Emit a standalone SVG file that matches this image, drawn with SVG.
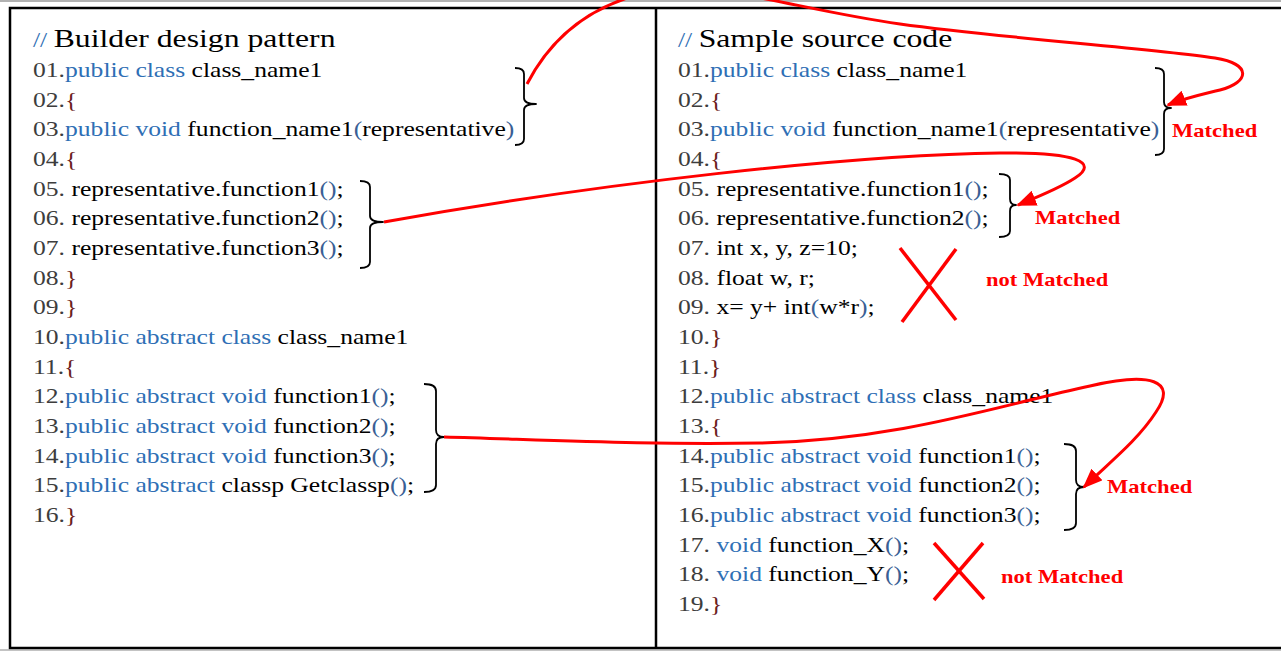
<svg xmlns="http://www.w3.org/2000/svg" width="1281" height="651" viewBox="0 0 1281 651">
<style>
.code{font-family:"Liberation Serif","Times New Roman",serif;font-size:21px;fill:#000}
.ttl{font-size:26px}
.n{fill:#3d3d3d}
.k{fill:#2f6fb5}
.b{fill:#6b2020}
.p{fill:#3a5f95}
.lbl{font-family:"Liberation Serif","Times New Roman",serif;font-weight:bold;font-size:18.5px;fill:#ff0000}
.brace{fill:none;stroke:#000;stroke-width:1.8;stroke-linejoin:round}
.link{fill:none;stroke:#ff0000;stroke-width:3}
.x{stroke:#ff0000;stroke-width:3.5;stroke-linecap:butt}
</style>
<defs>
<marker id="ah" markerUnits="userSpaceOnUse" markerWidth="20" markerHeight="16" refX="18" refY="8" orient="auto">
<path d="M0,0 L20,8 L0,16 Z" fill="#ff0000"/>
</marker>
</defs>
<rect x="0" y="0" width="1281" height="651" fill="#fff"/>
<line x1="0" y1="1" x2="1281" y2="1" stroke="#999" stroke-width="1.5"/>
<rect id="frame" x="10" y="8" width="1290" height="640" fill="none" stroke="#000" stroke-width="2.5"/>
<line x1="0" y1="650" x2="1281" y2="650" stroke="#888" stroke-width="1.2"/>
<line id="divider" x1="656" y1="8" x2="656" y2="648" stroke="#000" stroke-width="2.5"/>

<g id="left-code" class="code" transform="translate(33,0) scale(1.22,1)">
<text x="0" y="47"><tspan class="k">//</tspan> <tspan class="ttl">Builder design pattern</tspan></text>
<text x="0" y="77"><tspan class="n">01.</tspan><tspan class="k">public class</tspan> class_name1</text>
<text x="0" y="106.67"><tspan class="n">02.</tspan><tspan class="b">{</tspan></text>
<text x="0" y="136.33"><tspan class="n">03.</tspan><tspan class="k">public void</tspan> function_name1<tspan class="p">(</tspan>representative<tspan class="p">)</tspan></text>
<text x="0" y="166"><tspan class="n">04.</tspan><tspan class="b">{</tspan></text>
<text x="0" y="195.67"><tspan class="n">05.</tspan> representative.function1<tspan class="p">()</tspan>;</text>
<text x="0" y="225.33"><tspan class="n">06.</tspan> representative.function2<tspan class="p">()</tspan>;</text>
<text x="0" y="255"><tspan class="n">07.</tspan> representative.function3<tspan class="p">()</tspan>;</text>
<text x="0" y="284.67"><tspan class="n">08.</tspan><tspan class="b">}</tspan></text>
<text x="0" y="314.33"><tspan class="n">09.</tspan><tspan class="b">}</tspan></text>
<text x="0" y="344"><tspan class="n">10.</tspan><tspan class="k">public abstract class</tspan> class_name1</text>
<text x="0" y="373.67"><tspan class="n">11.</tspan><tspan class="b">{</tspan></text>
<text x="0" y="403.33"><tspan class="n">12.</tspan><tspan class="k">public abstract void</tspan> function1<tspan class="p">()</tspan>;</text>
<text x="0" y="433"><tspan class="n">13.</tspan><tspan class="k">public abstract void</tspan> function2<tspan class="p">()</tspan>;</text>
<text x="0" y="462.67"><tspan class="n">14.</tspan><tspan class="k">public abstract void</tspan> function3<tspan class="p">()</tspan>;</text>
<text x="0" y="492.33"><tspan class="n">15.</tspan><tspan class="k">public abstract</tspan> classp Getclassp<tspan class="p">()</tspan>;</text>
<text x="0" y="522"><tspan class="n">16.</tspan><tspan class="b">}</tspan></text>
</g>

<g id="right-code" class="code" transform="translate(678,0) scale(1.22,1)">
<text x="0" y="47"><tspan class="k">//</tspan> <tspan class="ttl">Sample source code</tspan></text>
<text x="0" y="77"><tspan class="n">01.</tspan><tspan class="k">public class</tspan> class_name1</text>
<text x="0" y="106.67"><tspan class="n">02.</tspan><tspan class="b">{</tspan></text>
<text x="0" y="136.33"><tspan class="n">03.</tspan><tspan class="k">public void</tspan> function_name1<tspan class="p">(</tspan>representative<tspan class="p">)</tspan></text>
<text x="0" y="166"><tspan class="n">04.</tspan><tspan class="b">{</tspan></text>
<text x="0" y="195.67"><tspan class="n">05.</tspan> representative.function1<tspan class="p">()</tspan>;</text>
<text x="0" y="225.33"><tspan class="n">06.</tspan> representative.function2<tspan class="p">()</tspan>;</text>
<text x="0" y="255"><tspan class="n">07.</tspan> int x, y, z=10;</text>
<text x="0" y="284.67"><tspan class="n">08.</tspan> float w, r;</text>
<text x="0" y="314.33"><tspan class="n">09.</tspan> x= y+ int<tspan class="p">(</tspan>w*r<tspan class="p">)</tspan>;</text>
<text x="0" y="344"><tspan class="n">10.</tspan><tspan class="b">}</tspan></text>
<text x="0" y="373.67"><tspan class="n">11.</tspan><tspan class="b">}</tspan></text>
<text x="0" y="403.33"><tspan class="n">12.</tspan><tspan class="k">public abstract class</tspan> class_name1</text>
<text x="0" y="433"><tspan class="n">13.</tspan><tspan class="b">{</tspan></text>
<text x="0" y="462.67"><tspan class="n">14.</tspan><tspan class="k">public abstract void</tspan> function1<tspan class="p">()</tspan>;</text>
<text x="0" y="492.33"><tspan class="n">15.</tspan><tspan class="k">public abstract void</tspan> function2<tspan class="p">()</tspan>;</text>
<text x="0" y="522"><tspan class="n">16.</tspan><tspan class="k">public abstract void</tspan> function3<tspan class="p">()</tspan>;</text>
<text x="0" y="551.67"><tspan class="n">17.</tspan> <tspan class="k">void</tspan> function_X<tspan class="p">()</tspan>;</text>
<text x="0" y="581.33"><tspan class="n">18.</tspan> <tspan class="k">void</tspan> function_Y<tspan class="p">()</tspan>;</text>
<text x="0" y="611"><tspan class="n">19.</tspan><tspan class="b">}</tspan></text>
</g>

<g id="brace-left-1"><path class="brace" d="M515,68 Q524,68 524,74 L524,98 Q524,104 536,104 Q524,104 524,110 L524,139 Q524,145 515,145"/></g>
<g id="brace-left-2"><path class="brace" d="M360,181 Q370,181 370,187 L370,216 Q370,222 383,222 Q370,222 370,228 L370,262 Q370,268 360,268"/></g>
<g id="brace-left-3"><path class="brace" d="M424,384 Q436,384 436,391 L436,430 Q436,437 444,437 Q436,437 436,444 L436,485 Q436,492 424,492"/></g>
<g id="brace-right-1"><path class="brace" d="M1155,68 Q1164,68 1164,74 L1164,102 Q1164,108 1171,108 Q1164,108 1164,114 L1164,149 Q1164,155 1155,155"/></g>
<g id="brace-right-2"><path class="brace" d="M999,174 Q1010,174 1010,180 L1010,199 Q1010,205 1016,205 Q1010,205 1010,211 L1010,231 Q1010,237 999,237"/></g>
<g id="brace-right-3"><path class="brace" d="M1064,444 Q1076,444 1076,451 L1076,480 Q1076,487 1084,487 Q1076,487 1076,494 L1076,523 Q1076,530 1064,530"/></g>

<g id="connectors">
<path class="link" marker-end="url(#ah)" d="M527,84 C555,30 600,0 660,-10 C720,-18 800,10 900,24 C1000,38 1150,48 1215,58 C1252,64 1250,82 1220,90 C1200,95 1185,98 1168,105"/>
<path class="link" marker-end="url(#ah)" d="M384,222 C600,183 850,155 1000,153 C1075,152 1100,162 1075,178 C1060,188 1040,196 1018,205"/>
<path class="link" marker-end="url(#ah)" d="M444,437 C550,440 650,445 760,443 C900,440 1000,405 1090,386 C1150,372 1178,380 1156,412 C1138,440 1110,462 1084,487"/>
</g>

<g id="mark-1"><line class="x" x1="900" y1="248" x2="956" y2="320"/><line class="x" x1="956" y1="249" x2="902" y2="322"/></g>
<g id="mark-2"><line class="x" x1="934" y1="543" x2="984" y2="599"/><line class="x" x1="983" y1="543" x2="934" y2="600"/></g>

<g id="labels">
<text class="lbl" transform="translate(1172,137) scale(1.22,1)">Matched</text>
<text class="lbl" transform="translate(1035,224) scale(1.22,1)">Matched</text>
<text class="lbl" transform="translate(986,286) scale(1.22,1)">not Matched</text>
<text class="lbl" transform="translate(1107,493) scale(1.22,1)">Matched</text>
<text class="lbl" transform="translate(1001,583) scale(1.22,1)">not Matched</text>
</g>
</svg>
